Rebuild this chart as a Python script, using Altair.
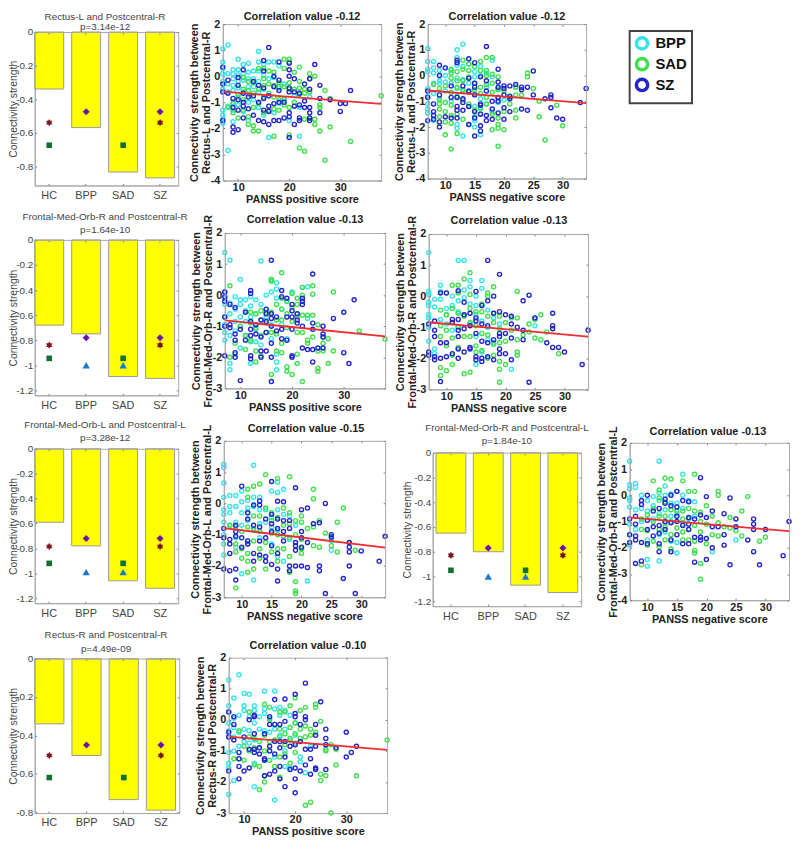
import altair as alt
import pandas as pd

GROUPS = ["HC", "BPP", "SAD", "SZ"]
SERIES = ["BPP", "SAD", "SZ"]
SERIES_COLORS = ["#35e4ea", "#3fe04a", "#2424cc"]
FONT = "Liberation Sans"

# ---- bar panels: group means and marker levels
BAR1 = [-0.34, -0.57, -0.835, -0.87]
BAR2 = [-0.68, -0.75, -1.09, -1.105]
BAR3 = [-0.59, -0.78, -1.06, -1.12]
BAR4 = [-0.65, -0.80, -1.07, -1.13]
BAR5 = [-0.34, -0.505, -0.735, -0.79]
STAR_LEVEL = [-0.54, -0.84, -0.785, -0.83, -0.505]
SQUARE_LEVEL = [-0.675, -0.945, -0.92, -0.95, -0.62]
DIAMOND_LEVEL = [-0.475, -0.78, -0.72, -0.77, -0.45]
TRIANGLE_LEVEL = [None, -1.0, -0.99, -1.0, None]

# ---- regression line ends
LINE_A = [(7, -0.59), (38, -1.06)]
LINE_B = [(7, -0.58), (34, -1.07)]
LINE_C = [(7, -0.81), (38, -1.33)]
LINE_D = [(7, -0.84), (34, -1.30)]
LINE_E = [(7, -0.79), (34, -1.41)]
LINE_F = [(7, -0.84), (34, -1.37)]
LINE_G = [(7, -0.54), (38, -0.97)]

# ---- scatter panels
A_BPP = [(7,1.05),(7,.55),(7,.3),(7,.1),(7,-.2),(7,-.5),(7,-1.3),(7,-1.5),(7,-1.65),(7,-1.8),(8,1.2),(8,.1),(8,-.3),(8,-.6),(8,-1.15),(8,-2.85),(9,.25),(9,.1),(9,-.1),(9,-.35),(9,-.55),(9,-1.0),(9,-1.3),(9,-1.75),(10,.65),(10,.25),(10,.05),(10,-.2),(10,-.45),(10,-.8),(10,-1.1),(11,.45),(11,.1),(11,-.15),(11,-.6),(11,-1.35),(12,.5),(12,.15),(12,-.1),(12,-.4),(12,-.7),(12,-1.0),(12,-1.7),(13,.2),(13,-.1),(13,-.4),(13,-.9),(14,.95),(14,.55),(14,.2),(14,-.2),(14,-.6),(14,-1.2),(15,.45),(15,.05),(15,-.5),(15,-1.5),(16,.55),(16,-.1),(16,-.75),(16,-2.35),(17,.55),(17,-.05),(17,-1.4),(18,.4),(18,-.4),(18,-1.05),(19,-.3),(19,-.9),(20,-1.7),(21,-.75),(22,-2.3),(22,-1.2),(24,-.8)]
A_SAD = [(8,-1.2),(9,-1.05),(9,-1.4),(10,-.7),(10,-1.6),(11,-.5),(11,-.05),(11,-.9),(11,-1.3),(12,-.2),(12,-.55),(12,-1.55),(12,-1.85),(13,-.25),(13,-.65),(13,-1.2),(13,-1.9),(13,-2.1),(14,.3),(14,-.5),(14,-1.05),(14,-2.1),(15,.3),(15,-.1),(15,-.35),(15,-.8),(15,-1.4),(16,.2),(16,-.3),(16,-.65),(16,-1.3),(17,.15),(17,-.35),(17,-.8),(17,-1.25),(17,-2.3),(18,-.25),(18,-.45),(18,-.9),(18,-1.3),(19,.65),(19,.3),(19,-.4),(19,-.85),(19,-1.1),(20,.65),(20,.55),(20,-.25),(20,-.5),(20,-1.2),(20,-2.25),(21,.15),(21,-.5),(21,-1.0),(22,.35),(22,-.2),(22,-.45),(22,-.7),(22,-2.75),(23,-.5),(23,-.65),(23,-1.65),(23,-2.88),(24,.1),(24,-.1),(24,-.6),(24,-1.6),(25,0),(25,-1.65),(25,-1.85),(26,-1.1),(26,-1.2),(26,-2.1),(27,-.55),(27,-3.22),(28,-.85),(28,-1.95),(32,-2.5),(38,-.75)]
A_SZ = [(7,.35),(7,-.3),(7,-.6),(7,-1.7),(8,-.15),(8,-.65),(9,-.85),(9,-1.2),(9,-1.95),(9,-2.15),(10,-.05),(10,-.35),(10,-.9),(10,-1.3),(10,-2.05),(11,.25),(11,-.65),(11,-1.0),(11,-1.15),(11,-1.6),(12,-.8),(12,-1.25),(13,-.2),(13,-.75),(13,-1.5),(14,-.35),(14,-1.0),(14,-1.7),(15,.6),(15,.2),(15,-.45),(15,-.85),(15,-1.3),(15,-1.75),(16,1.1),(16,-.75),(16,-1.15),(16,-1.35),(16,-1.85),(17,0),(17,-.4),(17,-1.05),(17,-1.7),(18,-.15),(18,-.55),(18,-1.0),(18,-1.7),(18,.55),(19,-1.0),(19,-1.6),(20,.5),(20,.25),(20,0),(20,-.45),(20,-.6),(20,-1.4),(20,-1.55),(20,-2.35),(21,-.1),(21,-.6),(21,-1.15),(21,-1.85),(22,-.65),(22,-1.1),(22,-1.6),(22,-1.7),(23,-.3),(23,-.95),(23,-1.2),(24,-.1),(24,-.5),(24,-1.2),(24,-1.4),(24,-1.6),(24,-1.7),(25,.45),(26,-.35),(26,-.85),(26,-1.4),(28,-.9),(30,-1.05),(30,-1.35),(31,-1.05),(32,-.55)]

B_BPP = [(7,1.05),(7,.55),(7,.25),(7,.15),(7,-.5),(7,-.8),(7,-1.1),(7,-1.3),(7,-1.45),(8,.55),(8,.3),(8,.1),(8,-.3),(8,-.7),(8,-1.75),(9,.2),(9,-.2),(9,-.3),(9,-.9),(10,.3),(10,0),(10,-.25),(10,-.6),(11,.2),(11,-.3),(11,-1.0),(12,1.0),(12,.7),(12,.4),(12,-.1),(12,-.5),(12,-1.9),(12,-2.05),(13,1.22),(13,.35),(13,-.15),(13,-.6),(13,-2.35),(14,.45),(14,-.3),(14,-1.2),(15,.15),(15,-.05),(15,-.7),(15,-1.2),(15,-1.6),(15,-1.75),(15,-2.0),(16,.35),(16,0),(16,-.9),(16,-1.3),(16,-2.3),(17,.1),(17,-.45),(17,-1.1),(18,.6),(18,-.05),(18,-1.4),(19,-.5),(19,-1.05),(20,-.95),(22,-.45)]
B_SAD = [(8,-.35),(9,-.5),(9,-.95),(9,-1.1),(9,-1.3),(9,-1.6),(10,-.4),(10,-1.05),(10,-1.4),(10,-1.8),(10,-2.3),(11,.25),(11,.1),(11,-.1),(11,-.65),(11,-1.15),(11,-1.55),(11,-1.85),(11,-2.85),(12,.15),(12,-.2),(12,-.45),(12,-.8),(12,-1.5),(12,-2.25),(13,.6),(13,.25),(13,-.2),(13,-.55),(13,-.95),(13,-1.7),(14,.45),(14,.2),(14,-.05),(14,-.65),(14,-1.1),(14,-1.9),(15,.35),(15,-.3),(15,-.55),(15,-1.35),(16,.55),(16,.2),(16,-.45),(16,-.7),(16,-1.25),(16,-1.5),(17,.7),(17,.2),(17,0),(17,-.35),(17,-.85),(17,-1.1),(18,.7),(18,.05),(18,-.3),(18,-.65),(18,-1.5),(18,-2.1),(19,-.05),(19,-.55),(19,-.85),(19,-1.65),(19,-1.9),(19,-2.05),(19,-2.75),(20,-2.1),(20,-1.4),(20,-.6),(21,-1.1),(21,-.85),(22,-.75),(22,-.45),(22,-1.35),(22,-1.65),(23,-.75),(24,.1),(24,-.05),(25,-.5),(26,-1.0),(26,-1.6),(27,-2.5),(29,-1.15),(30,-1.95)]
B_SZ = [(7,-.6),(7,-.85),(7,-1.75),(8,-1.1),(8,-1.4),(8,-1.55),(8,-1.7),(9,.4),(9,0),(9,-.75),(9,-1.8),(9,-2.0),(10,.3),(10,-1.6),(11,-.4),(11,-.85),(11,-1.65),(12,.6),(12,.5),(12,-.85),(12,-1.2),(12,-1.35),(12,-1.65),(13,-.4),(13,-.9),(13,-1.05),(13,-1.35),(14,.65),(14,-.1),(14,-.6),(14,-1.2),(14,-1.9),(15,.5),(15,-.3),(15,-.45),(15,-.75),(15,-1.4),(15,-1.65),(15,-2.35),(16,-.05),(16,-1.1),(16,-1.15),(16,-1.5),(16,-1.95),(16,-2.15),(17,1.13),(17,-.2),(17,-.6),(17,-1.55),(17,-1.75),(18,-1.0),(18,-1.3),(18,-1.7),(19,.25),(19,-.25),(19,-.45),(19,-.85),(19,-1.0),(19,-1.45),(20,-.4),(20,-.5),(20,-.75),(20,-1.25),(20,-1.7),(21,-.4),(21,-.8),(21,-.9),(21,-1.4),(22,-.35),(23,-.45),(23,-.55),(23,-1.3),(24,-.45),(24,-1.35),(25,.18),(25,-.75),(27,-.9),(28,-.75),(28,-.85),(28,-1.25),(29,-1.65),(30,-1.7),(33,-1.05),(34,-.5)]

C_BPP = [(7,1.37),(7,.1),(7,-.1),(7,-.3),(7,-.7),(7,-.95),(7,-1.2),(7,-1.45),(8,1.12),(8,-.25),(8,-.6),(8,-1.3),(8,-2.2),(8,-2.4),(9,-.05),(9,-.45),(9,-.85),(9,-1.15),(10,.5),(10,-.15),(10,-.3),(10,-.7),(10,-1.0),(10,-1.7),(11,-.15),(11,-.5),(11,-.85),(11,-1.3),(12,-.05),(12,-.35),(12,-.7),(12,-1.5),(12,-2.2),(13,-.15),(13,-.6),(13,-1.1),(13,-1.5),(14,1.1),(14,-.3),(14,-.8),(14,-1.6),(15,0),(15,-.45),(15,-.7),(16,.5),(16,.1),(16,-.95),(16,-1.4),(17,.4),(17,.2),(17,-.1),(17,-1.9),(17,-2.15),(17,-2.4),(18,-.45),(18,-.95),(19,-.2),(19,-1.4),(20,.1),(21,-.6),(22,.25),(23,.27),(23,-.75)]
C_SAD = [(8,.3),(8,-2.0),(9,-1.55),(9,-1.9),(10,-1.0),(11,-1.3),(11,-1.75),(12,-.55),(12,-.9),(12,-1.45),(13,-.6),(13,-1.05),(13,-1.8),(13,-2.15),(14,-.5),(14,-1.3),(14,-1.95),(15,-.55),(15,-.9),(15,-1.2),(16,.5),(16,.45),(16,-.55),(16,-1.2),(16,-2.55),(17,-.3),(17,-.8),(17,-1.25),(17,-1.8),(18,.72),(18,-.1),(18,-.45),(18,-.8),(18,-1.55),(18,-1.85),(19,-.2),(19,-.6),(19,-1.05),(19,-2.3),(19,-2.45),(20,.05),(20,-.4),(20,-.85),(20,-2.55),(21,-.1),(21,-.3),(21,-.7),(21,-1.2),(21,-1.9),(21,-2.2),(22,.25),(22,0),(22,-.2),(22,-.65),(22,-1.2),(22,-2.78),(23,-.65),(23,-1.45),(23,-1.55),(24,.3),(24,.03),(24,-.65),(24,-1.35),(25,-.95),(25,-1.8),(25,-2.35),(25,-2.45),(26,-1.35),(26,-1.55),(26,-1.8),(27,-1.4),(27,-2.2),(28,.1),(28,-1.8),(33,-1.15),(38,-1.42)]
C_SZ = [(7,.1),(7,-.05),(7,-.2),(7,-.7),(7,-1.0),(7,-1.95),(8,-.3),(8,-.95),(8,-1.05),(9,-.4),(9,-1.25),(9,-1.45),(9,-1.85),(9,-2.0),(10,-1.1),(10,-2.75),(11,-.55),(11,-1.45),(12,.15),(12,.05),(12,-.85),(12,-1.1),(12,-1.3),(12,-1.95),(12,-2.05),(13,-.95),(13,-1.25),(14,-.8),(14,-1.35),(14,-1.8),(14,-2.0),(15,-.45),(15,-.6),(15,-.85),(15,-1.2),(15,-1.8),(16,1.12),(16,-.6),(16,-.75),(16,-1.0),(16,-1.55),(16,-2.0),(16,-2.78),(17,-.7),(17,-1.15),(18,.15),(18,-.05),(18,-1.1),(18,-1.4),(19,-.7),(19,-.1),(19,-1.45),(20,-.3),(20,-.5),(20,-.7),(20,-1.1),(20,-1.95),(20,-2.0),(21,-.6),(21,-.8),(21,-.9),(22,-.1),(22,-.2),(22,-.3),(22,-1.0),(22,-1.7),(23,-1.75),(24,.68),(24,-.9),(24,-1.1),(24,-1.75),(24,-2.15),(25,-1.7),(26,-1.0),(26,-1.25),(26,-1.35),(26,-1.7),(28,-.75),(30,-.55),(30,-1.85),(31,-2.2),(32,-.15)]

D_BPP = [(7,1.4),(7,.15),(7,.05),(7,-.2),(7,-.3),(7,-.6),(7,-.7),(7,-1.0),(7,-1.45),(8,-.1),(8,-.35),(8,-1.7),(8,-1.85),(9,.35),(9,.15),(9,-.1),(9,-.75),(10,-.4),(10,-.6),(10,-.9),(11,0),(11,-.3),(11,-1.1),(12,1.15),(12,-.15),(12,-.5),(12,-1.0),(13,1.15),(13,.2),(13,-.05),(13,-.6),(14,.5),(14,.3),(14,-.25),(14,-.9),(15,0),(15,-.3),(15,-.6),(15,-1.3),(15,-2.2),(16,.5),(16,.25),(16,-.3),(16,-.8),(16,-1.8),(17,-.45),(17,-1.0),(17,-1.4),(18,-.7),(18,-1.5),(21,-2.35),(25,-.95),(25,-.7),(19,-.9)]
D_SAD = [(9,-.45),(9,-.95),(9,-1.3),(9,-2.3),(9,-2.55),(10,-.6),(10,-1.1),(10,-1.6),(10,-2.4),(11,.35),(11,-.4),(11,-.85),(11,-1.35),(11,-1.9),(11,-2.2),(12,.35),(12,.1),(12,-.55),(12,-1.0),(12,-1.65),(13,.55),(13,-.65),(13,-1.3),(13,-2.5),(14,.75),(14,.05),(14,-.4),(14,-.85),(14,-1.3),(14,-2.45),(15,-.5),(15,-.95),(15,-1.6),(15,-1.8),(16,-.25),(16,-.5),(16,-1.2),(16,-1.75),(17,.1),(17,.0),(17,-.65),(17,-1.25),(17,-2.0),(18,.3),(18,-.55),(18,-.85),(18,-1.55),(18,-1.9),(19,-.65),(19,-1.05),(19,-1.5),(19,-2.1),(19,-2.35),(19,-2.77),(20,-.85),(20,-1.45),(20,-2.2),(21,-.7),(21,-1.1),(22,.15),(22,-.7),(22,-1.4),(22,-1.8),(22,-1.9),(23,-1.25),(24,-1.15),(24,-.9),(25,-.75),(25,-1.35),(26,-.6),(26,-1.4),(27,-1.15),(29,-1.85)]
D_SZ = [(7,-.9),(7,-1.8),(7,-1.9),(8,-.8),(8,-1.1),(8,-1.3),(8,-1.95),(8,-2.05),(9,.1),(9,-1.5),(9,-2.0),(9,-2.75),(10,.1),(10,-1.5),(10,-1.95),(11,-.75),(11,-.85),(11,-1.85),(12,.17),(12,-.75),(12,-1.1),(12,-1.3),(12,-1.7),(12,-2.0),(13,-.2),(13,-.6),(13,-1.05),(13,-1.8),(14,-.55),(14,-.95),(14,-1.65),(14,-1.7),(15,.15),(15,-.7),(15,-.8),(15,-1.2),(15,-1.95),(15,-2.05),(16,-.3),(16,-.9),(16,-1.45),(16,-2.1),(16,-2.0),(17,1.15),(17,-.15),(17,-.95),(17,-1.5),(17,-1.95),(18,.0),(18,-.55),(18,-1.4),(18,-2.05),(19,.7),(19,-.5),(19,-1.2),(19,-1.3),(19,-1.7),(19,-1.85),(20,-.6),(20,-1.2),(20,-1.85),(21,-.65),(21,-.9),(21,-1.35),(21,-2.05),(22,-1.0),(23,-1.1),(23,-1.4),(23,-.15),(24,.03),(24,-2.77),(25,-.7),(27,-1.5),(28,-.55),(28,-.95),(28,-1.05),(28,-1.65),(29,-1.65),(30,-1.8),(33,-2.2),(34,-1.1)]

E_BPP = [(7,1.25),(7,1.15),(7,.65),(7,.2),(7,-.2),(7,-.35),(7,-.6),(7,-1.0),(7,-1.3),(7,-1.65),(8,.25),(8,-.1),(8,-.3),(8,-.7),(9,.25),(9,-.1),(9,-.6),(9,-1.1),(9,-1.4),(10,.4),(10,.05),(10,-.3),(10,-.7),(10,-2.25),(11,.1),(11,-.15),(11,-.55),(11,-1.2),(12,1.22),(12,.2),(12,-.1),(12,-.8),(12,-2.45),(13,.2),(13,-.2),(13,-.65),(13,-1.1),(14,-.2),(14,-.6),(15,.4),(15,-.45),(15,-.75),(15,-1.3),(16,.68),(16,.35),(16,-.2),(16,-.85),(16,-1.7),(17,.45),(17,-.35),(17,-1.85),(18,-.4),(18,-1.15),(19,-.7),(20,-1.45),(21,-2.48),(25,-1.5),(25,-1.2)]
E_SAD = [(8,-.7),(9,-.75),(9,-1.3),(9,-1.55),(9,-2.7),(10,-.9),(10,-1.45),(10,-1.75),(11,.45),(11,.2),(11,-.3),(11,-.75),(11,-1.3),(11,-1.6),(11,-1.85),(11,-2.2),(12,.55),(12,-.4),(12,-.85),(12,-1.2),(12,-2.1),(13,.62),(13,-.4),(13,-.9),(13,-1.45),(13,-1.75),(14,.92),(14,-.15),(14,-1.25),(14,-2.1),(15,-.3),(15,-.55),(15,-.95),(15,-1.55),(16,.8),(16,-.45),(16,-1.0),(16,-1.85),(16,-1.45),(17,-.15),(17,-.7),(17,-1.05),(17,-1.45),(18,.85),(18,-.3),(18,-.65),(18,-1.1),(18,-1.7),(18,-2.2),(19,-.55),(19,-1.0),(19,-2.5),(19,-2.8),(19,-2.88),(20,-.4),(20,-.6),(20,-1.15),(20,-1.6),(20,-1.45),(21,-.8),(22,.45),(22,.15),(22,-.75),(22,-1.35),(23,-.55),(23,-1.4),(24,-.95),(25,-1.35),(25,-1.05),(26,-.6),(26,-1.55),(27,-.15),(28,-1.25),(29,-1.5)]
E_SZ = [(7,-.8),(7,-1.1),(7,-2.1),(8,-1.15),(8,-1.3),(8,-1.6),(8,-2.15),(9,-.7),(9,-.9),(9,-1.05),(9,-2.1),(9,-2.45),(10,.55),(10,-1.1),(10,-1.4),(11,-.3),(11,-.5),(11,-1.2),(11,-1.3),(12,-.05),(12,-.7),(12,-1.6),(12,-1.85),(13,.08),(13,-.05),(13,-.75),(13,-1.2),(13,-1.65),(14,-.5),(14,-1.1),(14,-1.7),(14,-1.85),(15,.7),(15,-.35),(15,-.65),(15,-.9),(15,-1.35),(15,-1.95),(16,.07),(16,-.5),(16,-.8),(16,-1.6),(16,-2.1),(16,-2.48),(17,.05),(17,-.55),(17,-.9),(17,-1.2),(18,-.55),(18,-.8),(18,-2.0),(18,-2.15),(19,.5),(19,-1.25),(19,-1.35),(19,-1.5),(19,-2.0),(20,-.2),(20,-.9),(20,-1.1),(20,-1.4),(20,-2.0),(21,-.15),(21,-1.25),(21,-2.05),(22,-.65),(23,-.62),(23,-2.0),(23,-2.15),(24,0),(24,-2.88),(25,-1.0),(25,-1.08),(27,-2.4),(28,-1.25),(28,-1.4),(28,-1.55),(28,-2.0),(29,-2.88),(30,-1.52),(33,-1.85),(34,-1.05)]

F_BPP = [(7,1.3),(7,.4),(7,.25),(7,-.1),(7,-.2),(7,-.45),(7,-1.1),(7,-1.5),(7,-1.9),(8,.45),(8,.3),(8,-.55),(8,-1.3),(9,0),(9,-.5),(9,-1.0),(10,-.2),(10,-.6),(10,-1.7),(10,-2.45),(10,-2.7),(11,-.05),(11,-.4),(11,-.9),(12,1.3),(12,.1),(12,-.2),(12,-.7),(12,-1.5),(12,-2.5),(13,.35),(13,0),(13,-.55),(13,-1.05),(13,-1.4),(14,.05),(14,-.3),(14,-.8),(14,-1.75),(15,-.3),(15,-.7),(15,-1.8),(15,-2.2),(16,.8),(16,.0),(16,-.5),(16,-1.1),(17,-.2),(17,-.9),(18,-.25),(18,-.8),(21,-2.15),(25,-1.7)]
F_SAD = [(9,-.9),(9,-1.3),(9,-2.65),(10,-.75),(10,-1.35),(10,-1.9),(11,.55),(11,-.5),(11,-1.0),(11,-1.75),(12,.2),(12,-.1),(12,-.8),(12,-1.3),(12,-1.95),(13,.65),(13,-.25),(13,-.8),(13,-1.2),(13,-1.7),(14,.62),(14,-.55),(14,-1.0),(14,-1.5),(14,-2.05),(15,.15),(15,-.6),(15,-1.25),(16,.55),(16,-.6),(16,-.9),(16,-1.4),(16,-1.7),(17,.15),(17,-.5),(17,-.85),(17,-1.3),(17,-1.7),(18,.8),(18,.15),(18,-.6),(18,-1.15),(18,-1.75),(18,-2.1),(18,-2.2),(19,-.65),(19,-1.0),(19,-1.4),(19,-2.6),(19,-3.2),(20,-.4),(20,-1.1),(20,-1.85),(21,-.8),(21,-1.5),(22,.15),(22,0),(22,-1.05),(22,-1.55),(23,-1.2),(24,-.85),(24,-1.25),(25,-1.35),(26,-.6),(26,-1.55),(27,-.05),(29,-1.75),(30,-1.6)]
F_SZ = [(7,-.9),(7,-1.5),(7,-1.8),(8,-.8),(8,-1.1),(8,-1.55),(8,-1.7),(8,-2.6),(9,-.2),(9,-.35),(9,-1.8),(9,-2.5),(10,0),(10,-.95),(10,-1.3),(10,-1.85),(11,-.6),(11,-1.2),(11,-1.55),(12,-.5),(12,-1.15),(12,-1.45),(12,-1.85),(12,-2.15),(13,-.15),(13,-.3),(13,-1.0),(13,-1.3),(14,.0),(14,-.4),(14,-1.05),(14,-1.7),(14,-2.15),(15,.15),(15,-.45),(15,-.8),(15,-1.0),(15,-1.5),(16,-.2),(16,-1.15),(16,-1.85),(17,-.25),(17,-.85),(17,-1.1),(17,-1.3),(17,-1.85),(18,-.9),(18,-1.6),(18,-2.55),(19,.67),(19,-.75),(19,-1.6),(19,-1.7),(20,-.05),(20,-.85),(20,-1.65),(20,-2.45),(21,-.6),(21,-1.2),(21,-2.0),(22,-1.2),(23,-.7),(23,-1.5),(23,-1.9),(24,-.1),(24,-2.65),(25,-.9),(25,-1.2),(27,-1.7),(28,-.9),(28,-1.1),(28,-1.3),(28,-2.15),(29,-2.65),(30,-1.3),(33,-2.3),(34,-1.0)]

G_BPP = [(7,1.28),(7,.45),(7,.25),(7,-.1),(7,-.35),(7,-.55),(7,-1.05),(7,-1.4),(7,-1.55),(7,-2.4),(8,.7),(8,.05),(8,-.25),(8,-.55),(8,-1.0),(8,-1.95),(9,1.45),(9,.15),(9,-.4),(9,-.85),(10,.85),(10,.45),(10,.3),(10,-.3),(10,-.7),(11,.82),(11,.1),(11,-.35),(11,-.75),(12,.45),(12,.3),(12,-.1),(12,-.65),(12,-1.4),(12,-2.15),(13,.1),(13,-.3),(13,-.9),(14,.92),(14,.35),(14,.2),(14,-.35),(14,-1.3),(15,.05),(15,-.4),(15,-1.0),(16,.93),(16,.35),(16,-.3),(16,-1.2),(16,-2.58),(17,.4),(17,.15),(17,-.5),(18,.3),(18,-.3),(18,-1.0),(18,-1.5),(19,.15),(19,-.65),(19,-1.55),(20,-.1),(20,-.5),(21,-1.2),(21,-1.35),(22,-1.7),(23,-.85)]
G_SAD = [(8,-1.25),(9,-.35),(9,-1.25),(10,-.85),(10,-1.3),(11,.25),(11,-.55),(11,-1.0),(12,-.6),(12,-.9),(12,-1.45),(13,-.7),(13,-1.5),(13,-2.25),(14,.5),(14,-.5),(14,-1.0),(14,-1.8),(14,-2.0),(15,.4),(15,0),(15,-.7),(15,-1.3),(16,-.15),(16,-.65),(16,-1.5),(17,.25),(17,-.3),(17,-.55),(17,-1.2),(17,-1.85),(18,.25),(18,-.45),(18,-.8),(18,-1.1),(19,.45),(19,-.25),(19,-.6),(19,-1.4),(20,.7),(20,-.1),(20,-.45),(20,-.75),(20,-1.05),(21,.3),(21,-.3),(21,-.6),(22,.4),(22,-.2),(22,-.55),(22,-2.75),(23,-.3),(23,-.5),(23,-2.65),(24,.5),(24,.4),(24,-.4),(25,-.05),(25,-1.75),(25,-1.95),(26,-.95),(26,-1.0),(26,-1.8),(27,-.8),(27,-3.0),(28,-.95),(28,-1.45),(32,-1.8),(38,-.65)]
G_SZ = [(7,.25),(7,-.4),(7,-.55),(7,-1.65),(8,.1),(8,-.15),(8,-.65),(9,-1.05),(9,-1.25),(9,-1.5),(9,-1.9),(10,-.55),(10,-1.65),(11,0),(11,-.95),(11,-1.55),(12,.15),(12,.1),(12,-.45),(12,-.95),(12,-1.05),(13,-.9),(13,-1.1),(14,-.45),(14,-1.25),(14,-1.3),(14,-1.8),(15,.1),(15,-.15),(15,-.85),(15,-1.0),(15,-1.75),(16,.65),(16,-.15),(16,-.7),(16,-1.1),(16,-1.65),(17,-.15),(17,-.7),(17,-.9),(17,-1.5),(17,-1.9),(18,.67),(18,-.05),(18,-.7),(18,-1.2),(18,-2.15),(19,-.85),(19,-1.6),(20,.82),(20,.2),(20,.1),(20,-.8),(20,-1.55),(20,-1.9),(20,-2.35),(21,-.15),(21,-.7),(21,-1.65),(22,1.18),(22,.1),(22,0),(22,-.95),(22,-1.45),(23,-.95),(23,-1.25),(23,-1.75),(24,-.15),(24,-.5),(24,-.85),(24,-1.55),(24,-1.6),(25,.58),(26,-.3),(26,-.6),(26,-.8),(26,-1.6),(28,-.9),(30,-.4),(30,-1.2),(31,-1.05),(32,-.85)]

# ---- layout: one view the size of the page; each panel has its own scales placed by their ranges
W, H = 792, 837
PAGE = 8
FRAME = "#a8a8a8"
STAR = "M0,-1L0.29,-0.5L0.87,-0.5L0.58,0L0.87,0.5L0.29,0.5L0,1L-0.29,0.5L-0.87,0.5L-0.58,0L-0.87,-0.5L-0.29,-0.5Z"


def rel(box):
    x0, x1, y0, y1 = box
    return x0 - PAGE, x1 - PAGE, y0 - PAGE, y1 - PAGE


def texts(items, size, weight, color):
    """items: (text, page x, page y)"""
    out = []
    for t, px, py in items:
        out.append(
            alt.Chart(pd.DataFrame({"t": [t]}))
            .mark_text(font=FONT, fontSize=size, fontWeight=weight, color=color, align="center", baseline="middle")
            .encode(text="t:N", x=alt.value(px - PAGE), y=alt.value(py - PAGE))
        )
    return out


def frame_axes(x0, x1, y0, y1, xvals, yvals, xfield, yfield, xscale, yscale, df):
    """Inward ticks and the box: each edge carries an axis of the opposite side."""
    common = dict(labels=False, title=None, grid=False, domainColor=FRAME, tickColor="#777777",
                  tickSize=2, domainWidth=1, zindex=1)
    a = alt.Chart(df).mark_point(opacity=0).encode(
        x=alt.X(xfield, scale=xscale, axis=alt.Axis(orient="bottom", offset=y0 - H, values=xvals, **common)),
        y=alt.Y(yfield, scale=yscale, axis=alt.Axis(orient="left", offset=-x1, values=yvals, **common)),
    )
    b = alt.Chart(df).mark_point(opacity=0).encode(
        x=alt.X(xfield, scale=xscale, axis=alt.Axis(orient="top", offset=-y1, values=xvals, **common)),
        y=alt.Y(yfield, scale=yscale, axis=alt.Axis(orient="right", offset=x0 - W, values=yvals, **common)),
    )
    return [a, b]


def bar_panel(box, bars, idx, ybottom, yvals, titles, left=None, title_pad=1):
    # `left`: the box edge moves right so that the axis labels and title fit on the page
    x0, x1, y0, y1 = rel(box)
    if left is not None:
        x0 = left - PAGE
        band = dict(paddingInner=0.216, paddingOuter=0.05, align=0.0)
    else:
        band = dict(paddingInner=0.2, paddingOuter=0.09)
    df = pd.DataFrame({"group": GROUPS, "mean": bars})
    xs = alt.Scale(type="band", domain=GROUPS, range=[x0, x1], **band)
    ys = alt.Scale(domain=[ybottom, 0], range=[y1, y0], nice=False, zero=False)
    main_axis = dict(grid=False, domainColor=FRAME, tickSize=0, labelFont=FONT, titleFont=FONT, labelColor="#444444",
                     titleColor="#444444", titleFontSize=10.5, titleFontWeight="normal",
                     labelOverlap=False, labelBound=False, labelFlush=False)
    layers = [
        alt.Chart(df).mark_bar(color="#ffff00", stroke="#9a9a9a", strokeWidth=1).encode(
            x=alt.X("group:N", scale=xs, sort=GROUPS,
                    axis=alt.Axis(orient="bottom", offset=y1 - H, title=None, labelAngle=0, labelPadding=4,
                                  labelFontSize=11, **main_axis)),
            y=alt.Y("mean:Q", scale=ys,
                    axis=alt.Axis(orient="left", offset=-x0, values=yvals, title="Connectivity strength",
                                  labelExpr="'' + datum.value", labelPadding=2, titlePadding=title_pad,
                                  labelFontSize=10, **main_axis)),
        )
    ]
    layers += frame_axes(x0, x1, y0, y1, GROUPS, yvals, "group:N", "mean:Q", xs, ys, df)
    markers = [
        (["HC", "SZ"], STAR_LEVEL[idx], STAR, "#7a1420", 55),
        (["HC", "SAD"], SQUARE_LEVEL[idx], "square", "#0f7030", 32),
        (["BPP", "SZ"], DIAMOND_LEVEL[idx], "diamond", "#7010b0", 50),
        (["BPP", "SAD"], TRIANGLE_LEVEL[idx], "triangle-up", "#1a78d0", 55),
    ]
    for cats, level, shape, color, size in markers:
        if level is None:
            continue
        mdf = pd.DataFrame({"group": cats, "level": [level] * len(cats)})
        layers.append(
            alt.Chart(mdf).mark_point(shape=shape, filled=True, color=color, size=size, opacity=1).encode(
                x=alt.X("group:N", scale=xs, sort=GROUPS, axis=None),
                y=alt.Y("level:Q", scale=ys, axis=None),
            )
        )
    layers += texts(titles, 10, "normal", "#444444")
    return layers


def scatter_panel(box, xdom, xvals, ydom, series, line, title, ylines, xtitle, legend=None):
    x0, x1, y0, y1 = rel(box)
    rows = []
    for name, pts in zip(SERIES, series):
        rows += [{"x": a, "y": b, "group": name} for a, b in pts]
    df = pd.DataFrame(rows)
    ldf = pd.DataFrame(line, columns=["x", "y"])
    xs = alt.Scale(domain=xdom, range=[x0, x1], nice=False, zero=False)
    ys = alt.Scale(domain=ydom, range=[y1, y0], nice=False, zero=False)
    yvals = list(range(ydom[0], ydom[1] + 1))
    main_axis = dict(grid=False, domainColor=FRAME, tickSize=0, labelFont=FONT, titleFont=FONT, labelColor="#222222",
                     titleColor="#222222", labelFontSize=11, titleFontSize=11, labelFontWeight="bold",
                     titleFontWeight="bold", labelOverlap=False, labelBound=False, labelFlush=False)
    color = alt.Color("group:N", scale=alt.Scale(domain=SERIES, range=SERIES_COLORS), legend=legend)
    layers = [
        alt.Chart(df).mark_point(shape="circle", filled=False, size=17, strokeWidth=1.4, opacity=1).encode(
            x=alt.X("x:Q", scale=xs, axis=alt.Axis(orient="bottom", offset=y1 - H, values=xvals, title=xtitle,
                                                   labelPadding=1, titlePadding=1, **main_axis)),
            y=alt.Y("y:Q", scale=ys, axis=alt.Axis(orient="left", offset=-x0, values=yvals, title=ylines,
                                                   labelExpr="'' + datum.value", labelPadding=3, titlePadding=-1,
                                                   titleLineHeight=12, **main_axis)),
            color=color,
        ),
        alt.Chart(ldf).mark_line(color="#f02c30", strokeWidth=1.8).encode(
            x=alt.X("x:Q", scale=xs, axis=None),
            y=alt.Y("y:Q", scale=ys, axis=None),
        ),
    ]
    layers += frame_axes(x0, x1, y0, y1, xvals, yvals, "x:Q", "y:Q", xs, ys, ldf)
    layers += texts([title], 11, "bold", "#222222")
    return layers


POS, NEG = "PANSS positive score", "PANSS negative score"
POS_X = [10, 20, 30]
NEG_X = [10, 15, 20, 25, 30]
L1 = ["Connectivity strength between", "Rectus-L and  Postcentral-R"]
L2 = ["Connectivity strength between", "Frontal-Med-Orb-R and  Postcentral-R"]
L3 = ["Connectivity strength between", "Frontal-Med-Orb-L and  Postcentral-L"]
L4 = ["Connectivity strength between", "Frontal-Med-Orb-R and  Postcentral-L"]
L5 = ["Connectivity strength between", "Rectus-R and  Postcentral-R"]
Y20 = [0, -0.2, -0.4, -0.6, -0.8]
Y12 = [0, -0.2, -0.4, -0.6, -0.8, -1, -1.2]

legend = alt.Legend(orient="none", legendX=628, legendY=19, title=None, fillColor="#ffffff", strokeColor="#444444",
                    padding=5, symbolType="circle", symbolSize=130, symbolStrokeWidth=3.5,
                    labelFont=FONT, labelFontSize=15, labelFontWeight="bold", labelColor="#111111", rowPadding=-6,
                    labelOffset=6)

layers = []
layers += bar_panel((30, 180, 28, 183), BAR1, 0, -0.915, Y20,
                    [("Rectus-L and  Postcentral-R", 106, 13), ("p=3.14e-12", 106, 23)], left=35, title_pad=-3)
layers += scatter_panel((225, 385, 20, 178), [7, 38], POS_X, [-4, 2], (A_BPP, A_SAD, A_SZ), LINE_A,
                        ("Correlation value -0.12", 305, 13), L1, POS)
layers += scatter_panel((432, 592, 20, 176), [7, 34], NEG_X, [-4, 2], (B_BPP, B_SAD, B_SZ), LINE_B,
                        ("Correlation value -0.12", 512, 13), L1, NEG, legend)
layers += bar_panel((30, 180, 238, 395), BAR2, 1, -1.24, Y12,
                    [("Frontal-Med-Orb-R and  Postcentral-R", 106, 215), ("p=1.64e-10", 106, 228)], left=35, title_pad=-3)
layers += scatter_panel((227, 389, 231, 388), [7, 38], POS_X, [-3, 2], (C_BPP, C_SAD, C_SZ), LINE_C,
                        ("Correlation value -0.13", 308, 218), L2, POS)
layers += scatter_panel((433, 594, 232, 389), [7, 34], NEG_X, [-3, 2], (D_BPP, D_SAD, D_SZ), LINE_D,
                        ("Correlation value -0.13", 514, 219), L2, NEG)
layers += bar_panel((30, 180, 449, 605), BAR3, 2, -1.24, Y12,
                    [("Frontal-Med-Orb-L and  Postcentral-L", 106, 425), ("p=3.28e-12", 106, 438)], left=35, title_pad=-3)
layers += scatter_panel((226, 389, 441, 599), [7, 34], NEG_X, [-3, 2], (E_BPP, E_SAD, E_SZ), LINE_E,
                        ("Correlation value -0.15", 309, 429), L3, NEG)
layers += bar_panel((437, 587, 453, 608), BAR4, 3, -1.24, Y12,
                    [("Frontal-Med-Orb-R and  Postcentral-L", 512, 428), ("p=1.84e-10", 512, 441)])
layers += scatter_panel((636, 797, 443, 602), [7, 34], NEG_X, [-4, 2], (F_BPP, F_SAD, F_SZ), LINE_F,
                        ("Correlation value -0.13", 715, 432), L4, NEG)
layers += bar_panel((31, 181, 661, 817), BAR5, 4, -0.805, Y20,
                    [("Rectus-R and  Postcentral-R", 107, 637), ("p=4.49e-09", 107, 651)], left=35, title_pad=-3)
layers += scatter_panel((231, 391, 660, 817), [7, 38], POS_X, [-3, 2], (G_BPP, G_SAD, G_SZ), LINE_G,
                        ("Correlation value -0.10", 311, 648), L5, POS)

chart = (
    alt.layer(*layers)
    .resolve_scale(x="independent", y="independent", color="independent")
    .resolve_axis(x="independent", y="independent")
    .properties(width=W, height=H, padding=0, autosize=alt.AutoSizeParams(type="none", contains="content"))
    .configure_view(strokeWidth=0)
    .configure_axis(labelFont=FONT, titleFont=FONT)
    .configure_legend(strokeWidth=2)
)
chart.save("out.html", embed_options={"renderer": "svg", "actions": False})
